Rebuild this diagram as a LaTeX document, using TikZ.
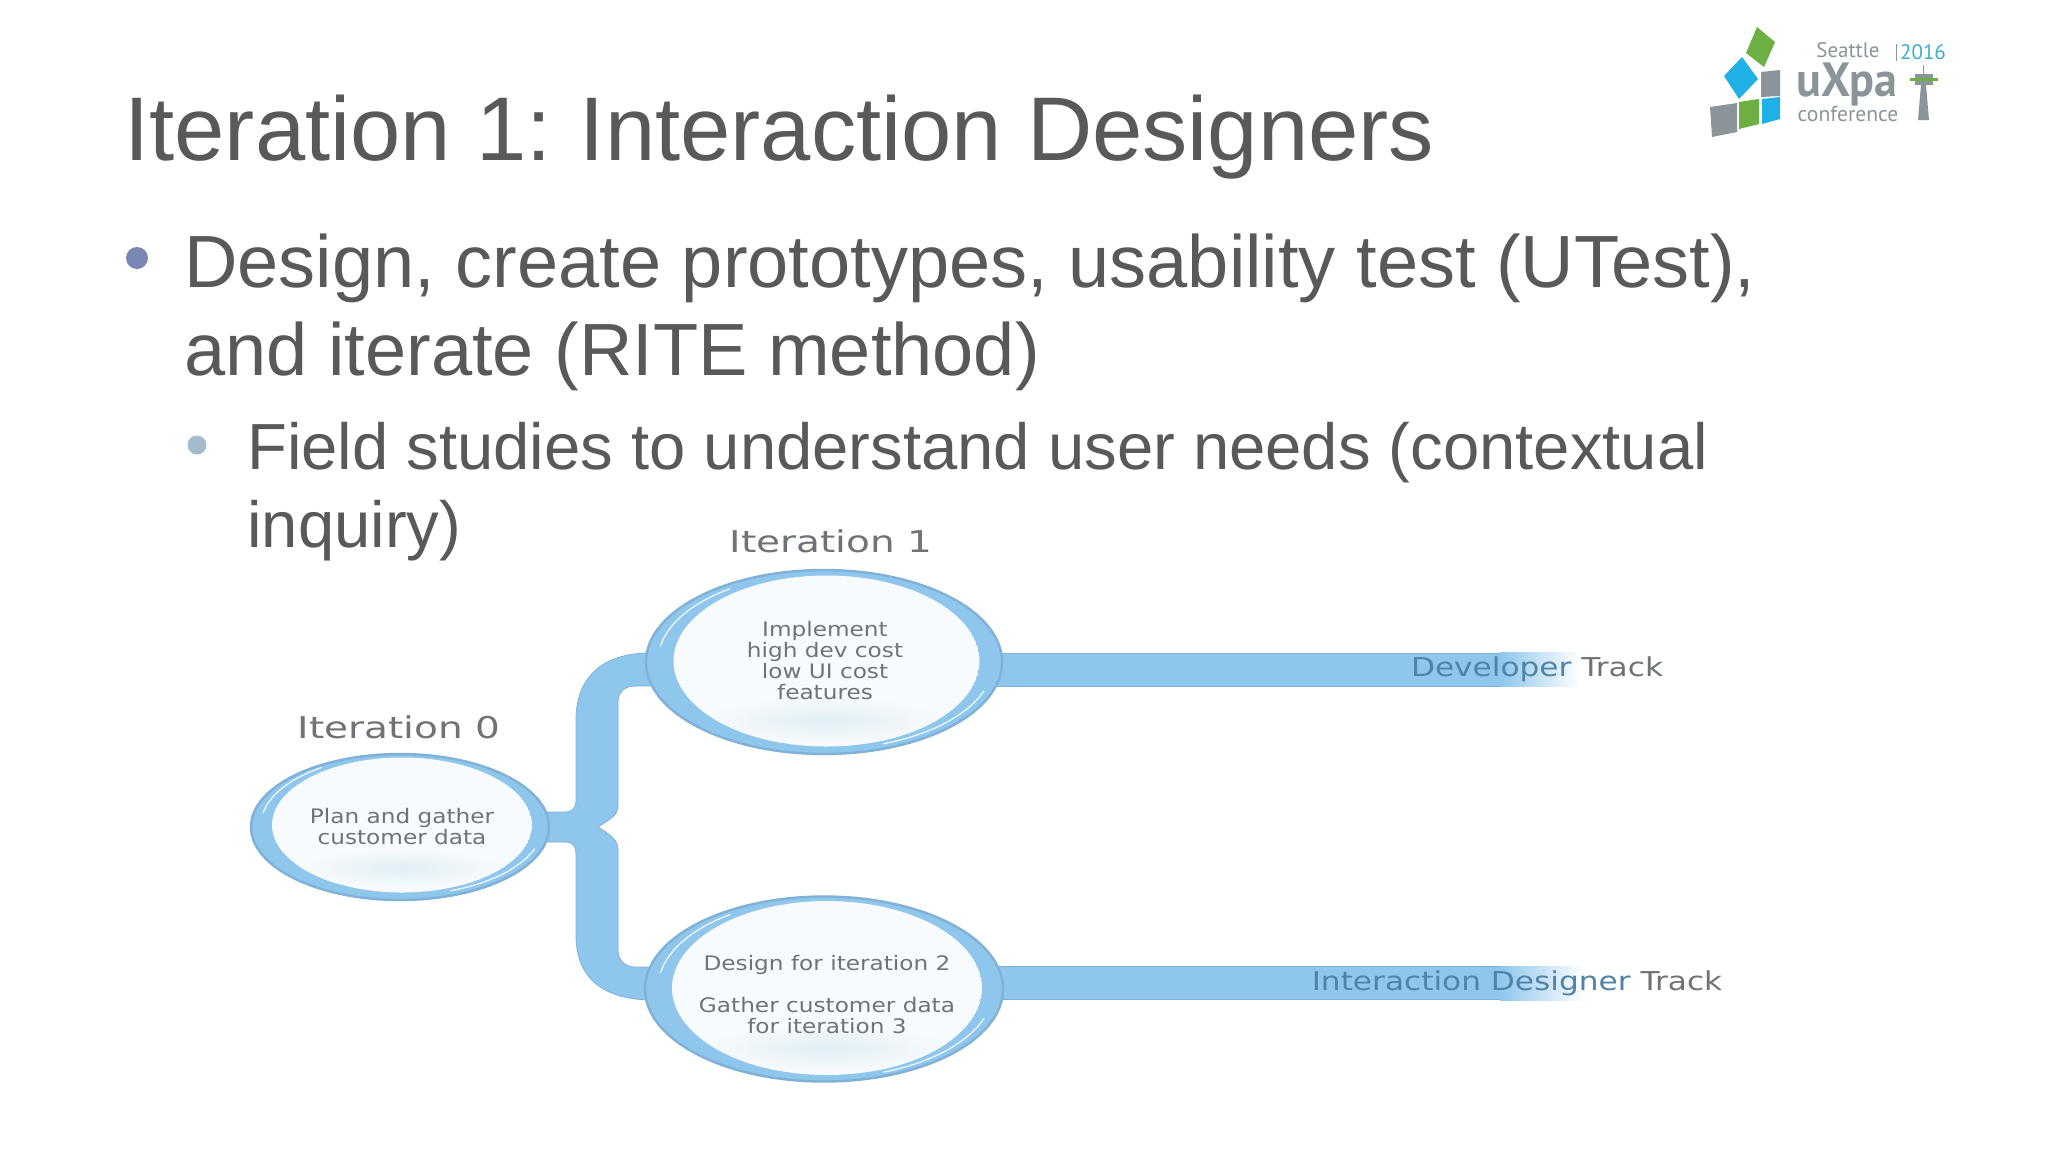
\documentclass[tikz,border=0pt]{standalone}
\usepackage{fontspec}
\setmainfont{Liberation Sans}
\newfontfamily\diagit[FakeStretch=1.3]{DejaVu Sans}
\newfontfamily\diagbub[FakeStretch=1.16]{DejaVu Sans}
\newfontfamily\diagtrk[FakeStretch=1.2]{DejaVu Sans}
\newfontfamily\logofont{PT Sans}
\usetikzlibrary{shadings,calc,shapes.geometric}
\pgfdeclarelayer{under}
\pgfsetlayers{under,main}
\definecolor{ink}{HTML}{595959}
\definecolor{pipeblue}{HTML}{8FC6EC}
\definecolor{rimblue}{HTML}{7FB2D6}
\definecolor{labelgray}{HTML}{6F7378}
\definecolor{onbar}{HTML}{4F83A8}
\definecolor{lgray}{HTML}{8A9499}
\definecolor{lgreen}{HTML}{6CB043}
\definecolor{lblue}{HTML}{1FB1E6}
\definecolor{lteal}{HTML}{3AAECB}
\definecolor{bulletone}{HTML}{7A86B4}
\definecolor{bullettwo}{HTML}{A3BBCC}
\definecolor{lensfill}{HTML}{F8FBFD}
\definecolor{lensshade}{HTML}{E0EEF5}
\tikzset{
  slidetext/.style={anchor=base west,inner sep=0pt,text=ink},
  itlabel/.style={inner sep=0pt,text=labelgray,font=\diagit\fontsize{15}{15}\selectfont},
  bubbletext/.style={inner sep=0pt,align=center,text=labelgray,font=\diagbub\fontsize{10}{10.5}\selectfont},
  pipe/.style={draw=rimblue,line width=0.4pt,fill=pipeblue},
  rim/.style={draw=rimblue,line width=1.2pt,fill=pipeblue,ellipse,inner sep=0pt},
  glint/.style={draw=white,line width=0.7pt,line cap=round,opacity=0.8},
  tracklabel/.style={inner sep=0pt,text=labelgray,font=\diagtrk\fontsize{13}{13}\selectfont},
  logotext/.style={inner sep=0pt,text=lgray,font=\logofont}
}
\begin{document}
\begin{tikzpicture}[x=0.5pt,y=-0.5pt]
\useasboundingbox (0,0) rectangle (2048,1152);
\begin{pgfonlayer}{under}
\fill[white] (0,0) rectangle (2048,1152);
\end{pgfonlayer}
% slide text
\node[slidetext,font=\fontsize{45.2}{45}\selectfont] (title) at (124,160) {Iteration 1:\kern-2.5pt{} Interaction Designers};
\fill[bulletone] (137,258) circle (11);
\node[slidetext,font=\fontsize{37}{37}\selectfont] (l1a) at (184,287) {Design, create prototypes, usability test (UTest),};
\node[slidetext,font=\fontsize{37}{37}\selectfont] (l1b) at (184,375) {and iterate (RITE method)};
\fill[bullettwo] (197,445) circle (9.5);
\node[slidetext,font=\fontsize{32.6}{32.6}\selectfont] (l2a) at (247,469) {Field studies to understand user needs (contextual};
\node[slidetext,font=\fontsize{32.6}{32.6}\selectfont] (l2b) at (247,547) {inquiry)};
% bubbles
\node[rim,minimum width=149pt,minimum height=73pt] (it0) at (400,827) {};
\node[rim,minimum width=178pt,minimum height=92pt] (it1) at (824,662) {};
\node[rim,minimum width=179pt,minimum height=92.5pt] (it2) at (824,989) {};
\coordinate (devsolid) at (1500,669.5);
\coordinate (ixdsolid) at (1500,983);
% brace connector, behind the bubbles
\begin{pgfonlayer}{under}
\path[pipe] ($(it0.east)+(-10,-15)$) -- (565,812) .. controls (573,812) and (576,808) .. (576,800)
  -- (576,720) .. controls (576,675) and (605,653) .. (650,653)
  -- ($(it1.west)+(10,-9)$) -- ($(it1.west)+(10,24)$) -- (635,686) .. controls (625,686) and (618,692) .. (618,702)
  -- (618,805) .. controls (618,815) and (612,818) .. (598,827)
  .. controls (612,836) and (618,840) .. (618,850)
  -- (618,950) .. controls (618,960) and (625,967) .. (635,967)
  -- ($(it2.west)+(10,-22)$) -- ($(it2.west)+(10,11)$) .. controls (605,1000) and (576,980) .. (576,935)
  -- (576,855) .. controls (576,846) and (573,842) .. (565,842)
  -- ($(it0.east)+(-10,15)$) -- cycle;
% tracks
\draw[rimblue,line width=17pt] ($(it1.east)+(-10,7.5)$) -- (devsolid);
\draw[pipeblue,line width=16pt] ($(it1.east)+(-10,7.5)$) -- (devsolid);
\shade[left color=pipeblue,right color=white] (1500,652.5) rectangle (1580,686.5);
\draw[rimblue,line width=17pt] ($(it2.east)+(-10,-6)$) -- (ixdsolid);
\draw[pipeblue,line width=16pt] ($(it2.east)+(-10,-6)$) -- (ixdsolid);
\shade[left color=pipeblue,right color=white] (1500,966) rectangle (1585,1000);
\end{pgfonlayer}
% lenses
\begin{scope}
\clip (402,825) ellipse (130 and 67.5);
\fill[lensfill] (402,825) ellipse (130 and 67.5);
\shade[inner color=lensshade,outer color=lensfill] (402,868) ellipse (105 and 20);
\end{scope}
\begin{scope}
\clip (826.5,661) ellipse (153 and 85.5);
\fill[lensfill] (826.5,661) ellipse (153 and 85.5);
\shade[inner color=lensshade,outer color=lensfill] (826,720) ellipse (125 and 24);
\end{scope}
\begin{scope}
\clip (827,988) ellipse (155 and 87);
\fill[lensfill] (827,988) ellipse (155 and 87);
\shade[inner color=lensshade,outer color=lensfill] (827,1048) ellipse (125 and 24);
\end{scope}
% glints
\draw[glint] ($(402,825)+(20:141 and 70)$) arc[start angle=20,end angle=70,x radius=141,y radius=70];
\draw[glint] ($(402,825)+(190:141 and 70)$) arc[start angle=190,end angle=235,x radius=141,y radius=70];
\draw[glint] ($(826,661)+(20:168 and 88)$) arc[start angle=20,end angle=70,x radius=168,y radius=88];
\draw[glint] ($(826,661)+(190:168 and 88)$) arc[start angle=190,end angle=235,x radius=168,y radius=88];
\draw[glint] ($(826,988)+(20:168 and 89.5)$) arc[start angle=20,end angle=70,x radius=168,y radius=89.5];
\draw[glint] ($(826,988)+(190:168 and 89.5)$) arc[start angle=190,end angle=235,x radius=168,y radius=89.5];
% labels
\node[itlabel] (t0) at (399,727) {Iteration 0};
\node[itlabel] (t1) at (831,541) {Iteration 1};
\node[bubbletext] (b0) at (402,827) {Plan and gather\\customer data};
\node[bubbletext] (b1) at (825,661) {Implement\\high dev cost\\low UI cost\\features};
\node[bubbletext] (b2) at (827,995) {Design for iteration 2\\[10.5pt]Gather customer data\\for iteration 3};
\node[tracklabel] (dev) at (1537,669) {\textcolor{onbar}{Developer} Track};
\node[tracklabel] (ixd) at (1517,983) {\textcolor{onbar}{Interaction Designer} Track};
% logo
\fill[lgreen] (1757,27) -- (1775,42) -- (1764,67) -- (1746,53) -- cycle;
\fill[lblue] (1742,57) -- (1758,79) -- (1739,99) -- (1724,76) -- cycle;
\fill[lgray] (1761,72) -- (1780,70) -- (1780,96) -- (1761,97) -- cycle;
\fill[lgray] (1710,107) -- (1737,103) -- (1737,132) -- (1712,137) -- cycle;
\fill[lgreen] (1739,102) -- (1759,99) -- (1759,124) -- (1739,129) -- cycle;
\fill[lblue] (1762,99) -- (1780,97) -- (1780,119) -- (1762,124) -- cycle;
\node[logotext,font=\logofont\fontsize{10.5}{10.5}\selectfont] (seattle) at (1848,50.5) {Seattle};
\node[logotext,text=lteal,font=\logofont\fontsize{10.5}{10.5}\selectfont] (year) at (1923,52) {2016};
\draw[lgray,line width=0.5pt] (1896,44) -- (1896,61);
\node[logotext,font=\logofont\bfseries\fontsize{24}{20}\selectfont] (uxpa) at (1847,84) {\scalebox{0.96}[1]{uXpa}};
\node[logotext,font=\logofont\fontsize{10.8}{11}\selectfont] (conf) at (1848,114) {conference};
\fill[lgray] (1921,85) -- (1926,85) -- (1929,120) -- (1918,120) -- cycle;
\draw[lgray,line width=0.5pt] (1923,65) -- (1923,74);
\fill[lgray] (1915,74) rectangle (1933,78);
\fill[lgreen] (1910,78) rectangle (1938,81);
\fill[lgray] (1915,81) rectangle (1933,85);
\end{tikzpicture}
\end{document}
